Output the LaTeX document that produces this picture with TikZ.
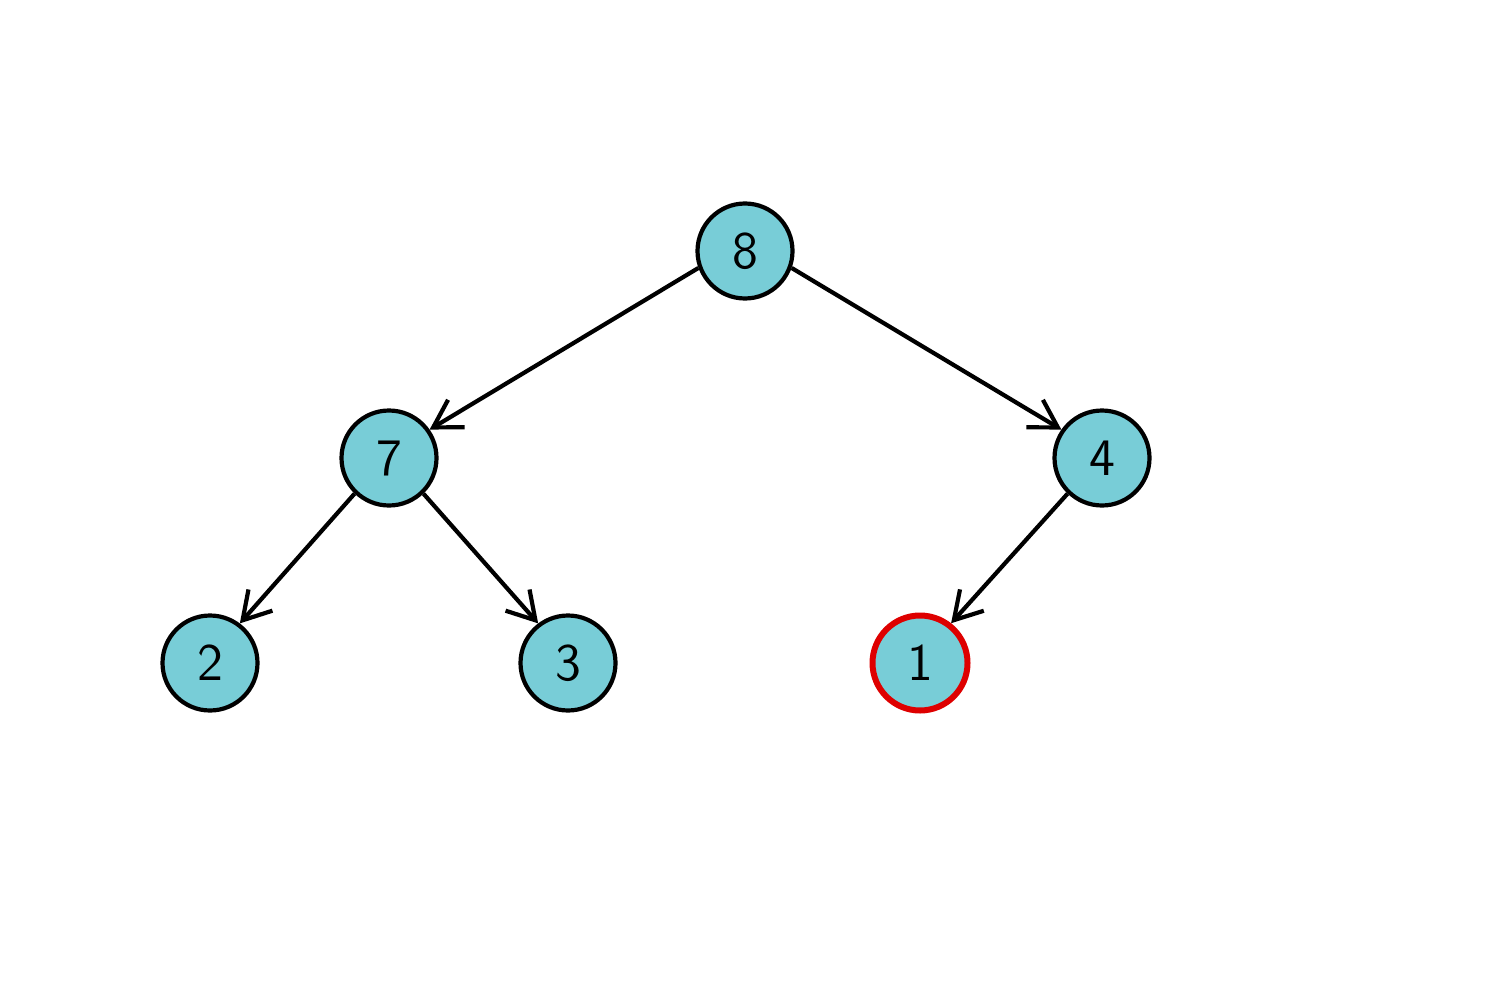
\documentclass[tikz,border=0pt]{standalone}
\usetikzlibrary{arrows.meta}
\definecolor{nodefill}{RGB}{120,205,215}
\definecolor{hlred}{RGB}{222,0,0}
\begin{document}
\begin{tikzpicture}
\useasboundingbox (0,0) rectangle (14.96,9.98);
\tikzset{
  treenode/.style={circle, draw=black, fill=nodefill, line width=0.042cm,
    minimum size=0.95cm, inner sep=0pt, font=\sffamily\fontsize{15}{18}\selectfont},
  hlnode/.style={treenode, draw=hlred, line width=0.06cm},
  edge/.style={draw=black, line width=0.042cm, -{Straight Barb[length=0.27cm, width=0.32cm, line width=0.042cm]}}
}
\node[treenode] (n8) at (7.45,7.47) {8};
\node[treenode] (n7) at (3.89,5.40) {7};
\node[treenode] (n4) at (11.02,5.40) {4};
\node[treenode] (n2) at (2.10,3.35) {2};
\node[treenode] (n3) at (5.68,3.35) {3};
\node[hlnode] (n1) at (9.20,3.35) {1};
\draw[edge] (n8.200) -- (n7.35);
\draw[edge] (n8.340) -- (n4.145);
\draw[edge] (n7.226) -- (n2.53);
\draw[edge] (n7.314) -- (n3.127);
\draw[edge] (n4.226) -- (n1.52);
\end{tikzpicture}
\end{document}
